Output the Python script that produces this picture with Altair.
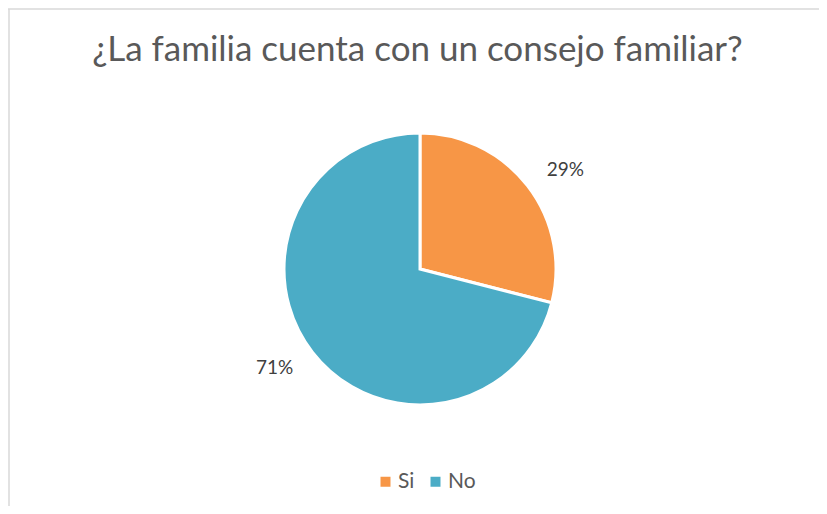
import altair as alt
import pandas as pd

categories = ["Si", "No"]
values = [29, 71]
labels = ["29%", "71%"]
colors = ["#F79646", "#4BACC6"]
title_text = "¿La familia cuenta con un consejo familiar?"

df = pd.DataFrame({"cat": categories, "val": values, "lbl": labels, "idx": [0, 1]})

W, H = 811, 498
CX, CY = 412, 261
FONT = "Lato"
GREY = "#595959"
SHIFT = 0.06

base = alt.Chart(df)

pie = base.mark_arc(radius=136, stroke="white", strokeWidth=3).encode(
    theta=alt.Theta("val:Q", stack=True),
    order=alt.Order("idx:Q"),
    color=alt.Color(
        "cat:N",
        scale=alt.Scale(domain=categories, range=colors),
        legend=alt.Legend(
            title=None,
            orient="none",
            legendX=367,
            legendY=463,
            direction="horizontal",
            symbolType="square",
            symbolSize=100,
            symbolStrokeWidth=0,
            labelFontSize=21,
            labelFont=FONT,
            labelColor=GREY,
            columnPadding=10,
            labelOffset=2,
        ),
    ),
    x=alt.value(CX),
    y=alt.value(CY),
)

text = base.mark_text(radius=176, fontSize=19, font=FONT, color="#404040").encode(
    theta=alt.Theta("val:Q", stack=True,
                    scale=alt.Scale(range=[SHIFT, 6.283185307 + SHIFT])),
    order=alt.Order("idx:Q"),
    text="lbl:N",
    x=alt.value(CX),
    y=alt.value(CY),
)

title = alt.Chart(pd.DataFrame({"t": [title_text]})).mark_text(
    fontSize=35, font=FONT, color=GREY, align="center", baseline="middle"
).encode(text="t:N", x=alt.value(W / 2 + 4), y=alt.value(42))

border_top = alt.Chart(pd.DataFrame({"a": [0]})).mark_rule(color="#D9D9D9", strokeWidth=1.5).encode(
    x=alt.value(0), x2=alt.value(W), y=alt.value(1)
)
border_left = alt.Chart(pd.DataFrame({"a": [0]})).mark_rule(color="#D9D9D9", strokeWidth=1.5).encode(
    x=alt.value(1), y=alt.value(1), y2=alt.value(H)
)

chart = alt.layer(border_top, border_left, title, pie, text).resolve_scale(
    theta="independent"
).properties(
    width=W, height=H, autosize=alt.AutoSizeParams(type="none"), padding=0
).configure_view(stroke=None)

chart.save("out.html", embed_options={"renderer": "svg", "actions": False})
